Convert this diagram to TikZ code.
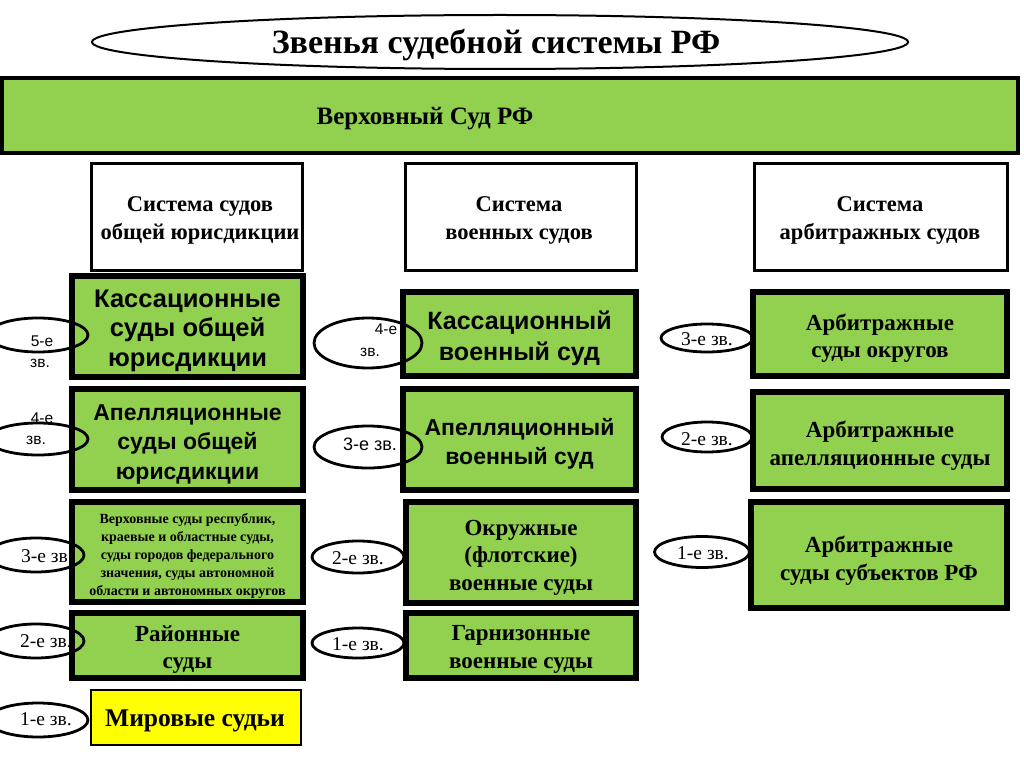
\documentclass[tikz,border=0pt]{standalone}
\usepackage{fontspec}
\setmainfont{Liberation Serif}
\newfontfamily\arialf{Liberation Sans}
\usetikzlibrary{shapes.geometric}
\definecolor{grn}{HTML}{92D050}
\definecolor{ylw}{HTML}{FFFF00}
\begin{document}
\begin{tikzpicture}[x=1pt,y=-1pt,
  gbox/.style={draw=black, line width=6pt, fill=grn, inner sep=0pt},
  gtxt/.style={align=center, inner sep=0pt},
  hbox/.style={draw=black, line width=3pt, fill=white, inner sep=0pt},
  htxt/.style={align=center, inner sep=0pt, font=\bfseries\fontsize{22.5}{28}\selectfont},
  lvl/.style={draw=black, line width=2.8pt, ellipse, inner sep=0pt},
  sanslbl/.style={inner sep=0pt, font=\arialf\fontsize{15.5}{17}\selectfont},
  serlbl/.style={inner sep=0pt, font=\fontsize{19.5}{21}\selectfont},
  arbig/.style={font=\arialf\bfseries\fontsize{25.5}{29.5}\selectfont},
  arapp/.style={font=\arialf\bfseries\fontsize{23}{29.5}\selectfont},
  armid/.style={font=\arialf\bfseries\fontsize{25}{31}\selectfont},
  armidb/.style={font=\arialf\bfseries\fontsize{23}{29}\selectfont},
  sermid/.style={font=\bfseries\fontsize{23}{27.5}\selectfont},
]
\useasboundingbox (0,0) rectangle (1024,767);
\fill[white] (0,0) rectangle (1024,767);

% title
\node[draw=black, line width=2pt, ellipse, minimum width=816pt, minimum height=54pt, inner sep=0pt] (title) at (500,42) {};
\node[inner sep=0pt, font=\bfseries\fontsize{34}{36}\selectfont] (titlet) at (496,45) {Звенья судебной системы РФ};

% supreme court bar
\node[draw=black, line width=4pt, fill=grn, minimum width=1016pt, minimum height=75pt, inner sep=0pt] (vs) at (510,115.5) {};
\node[inner sep=0pt, font=\bfseries\fontsize{25}{28}\selectfont] (vst) at (425,119) {Верховный Суд РФ};

% headers
\node[hbox, minimum width=211pt, minimum height=106pt] (h1) at (196.5,217) {};
\node[hbox, minimum width=231pt, minimum height=106pt] (h2) at (520.5,217) {};
\node[hbox, minimum width=253pt, minimum height=106pt] (h3) at (880.5,217) {};
\node[htxt] (h1t) at (200,220.5) {Система судов\\общей юрисдикции};
\node[htxt] (h2t) at (519,220.5) {Система\\военных судов};
\node[htxt] (h3t) at (880,220.5) {Система\\арбитражных судов};

% column 1
\node[gbox, minimum width=231pt, minimum height=101pt] (k1) at (187.5,326.5) {};
\node[gtxt, arbig] (k1t) at (187.5,330.5) {Кассационные\\суды общей\\юрисдикции};
\node[gbox, minimum width=231pt, minimum height=101pt] (a1) at (187.5,439.5) {};
\node[gtxt, arapp] (a1t) at (187.5,444) {Апелляционные\\суды общей\\юрисдикции};
\node[gbox, minimum width=231pt, minimum height=100pt] (v1) at (187.5,552) {};
\node[gtxt, font=\bfseries\fontsize{14}{18}\selectfont] (v1t) at (187.5,555.5)
  {Верховные суды республик,\\краевые и областные суды,\\суды городов федерального\\значения, суды автономной\\области и автономных округов};
\node[gbox, minimum width=231pt, minimum height=65pt] (r1) at (187.5,645.5) {};
\node[gtxt, sermid] (r1t) at (187.5,649.5) {Районные\\суды};
\node[draw=black, line width=1.5pt, fill=ylw, minimum width=210pt, minimum height=55pt, inner sep=0pt] (m1) at (196,717.5) {};
\node[gtxt, font=\bfseries\fontsize{25.5}{28}\selectfont] (m1t) at (195,721) {Мировые судьи};

% column 2
\node[gbox, minimum width=233pt, minimum height=84pt] (k2) at (519.5,334) {};
\node[gtxt, armid] (k2t) at (519.5,338) {Кассационный\\военный суд};
\node[gbox, minimum width=233pt, minimum height=101pt] (a2) at (519.5,439.5) {};
\node[gtxt, armidb] (a2t) at (519.5,444) {Апелляционный\\военный суд};
\node[gbox, minimum width=230pt, minimum height=101pt] (o2) at (521,552.5) {};
\node[gtxt, sermid] (o2t) at (521,557.5) {Окружные\\(флотские)\\военные суды};
\node[gbox, minimum width=230pt, minimum height=65pt] (g2) at (521,645.5) {};
\node[gtxt, sermid] (g2t) at (521,649.5) {Гарнизонные\\военные суды};

% column 3
\node[gbox, minimum width=254pt, minimum height=84pt] (k3) at (880,334) {};
\node[gtxt, sermid] (k3t) at (880,338) {Арбитражные\\суды округов};
\node[gbox, minimum width=254pt, minimum height=97pt] (a3) at (880,440.5) {};
\node[gtxt, sermid] (a3t) at (880,445.5) {Арбитражные\\апелляционные суды};
\node[gbox, minimum width=256pt, minimum height=106pt] (s3) at (879,555) {};
\node[gtxt, sermid] (s3t) at (879,560.5) {Арбитражные\\суды субъектов РФ};

% level ellipses, column 1
\node[lvl, minimum width=100pt, minimum height=34pt] (e5a) at (38,335) {};
\node[sanslbl] (e5at) at (42,341) {5-е};
\node[sanslbl] (e5az) at (40,363) {зв.};
\node[lvl, minimum width=100pt, minimum height=32pt] (e4a) at (38,439) {};
\node[sanslbl] (e4at) at (42,418) {4-е};
\node[sanslbl] (e4az) at (36,440) {зв.};
\node[lvl, minimum width=96pt, minimum height=34pt] (e3a) at (36,555) {};
\node[serlbl] (e3at) at (47,556) {3-е зв.};
\node[lvl, minimum width=96pt, minimum height=34pt] (e2a) at (36,641) {};
\node[serlbl] (e2at) at (46,641) {2-е зв.};
\node[lvl, minimum width=100pt, minimum height=34pt] (e1a) at (38,720) {};
\node[serlbl] (e1at) at (46,719) {1-е зв.};

% level ellipses, column 2
\node[lvl, minimum width=108pt, minimum height=50pt] (e4b) at (368,343) {};
\node[sanslbl] (e4bt) at (386,329) {4-е};
\node[sanslbl] (e4bz) at (370,352) {зв.};
\node[lvl, minimum width=108pt, minimum height=42pt] (e3b) at (368,447) {};
\node[sanslbl, font=\arialf\fontsize{18}{20}\selectfont] (e3bt) at (370,444) {3-е зв.};
\node[lvl, minimum width=92pt, minimum height=32pt] (e2b) at (358,557) {};
\node[serlbl] (e2bt) at (358,558) {2-е зв.};
\node[lvl, minimum width=92pt, minimum height=30pt] (e1b) at (358,643) {};
\node[serlbl] (e1bt) at (358,644) {1-е зв.};

% level ellipses, column 3
\node[lvl, minimum width=92pt, minimum height=28pt] (e3c) at (707,338) {};
\node[serlbl] (e3ct) at (707,339) {3-е зв.};
\node[lvl, minimum width=90pt, minimum height=30pt] (e2c) at (707,437) {};
\node[serlbl] (e2ct) at (707,439) {2-е зв.};
\node[lvl, minimum width=95pt, minimum height=31pt] (e1c) at (702,552) {};
\node[serlbl] (e1ct) at (703,553.5) {1-е зв.};
\end{tikzpicture}
\end{document}
